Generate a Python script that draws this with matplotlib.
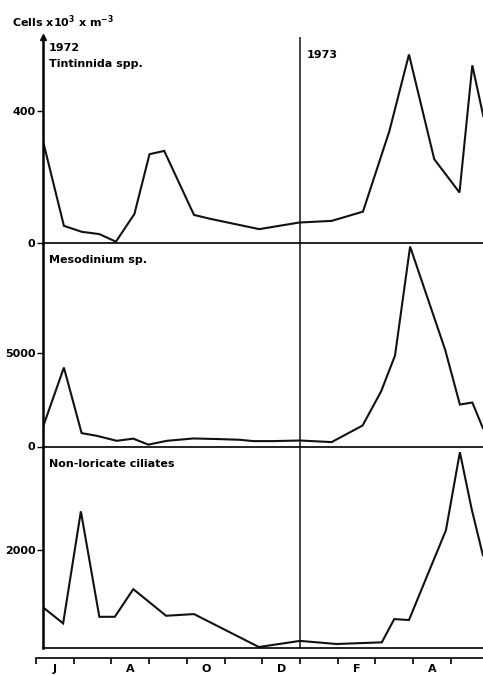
import numpy as np
import matplotlib
matplotlib.use('Agg')
import matplotlib.pyplot as plt

plt.rcParams['font.family'] = 'DejaVu Sans'
plt.rcParams['font.weight'] = 'bold'
plt.rcParams['font.size'] = 8
plt.rcParams['mathtext.default'] = 'bf'

# x = months since 1 June 1972
tin_m = [0.19, 0.74, 1.21, 1.68, 2.12, 2.61, 3.01, 3.40, 4.19, 4.63, 5.92,
         6.98, 7.84, 8.67, 9.37, 9.89, 10.56, 11.23, 11.57, 11.86]
tin_v = [307, 52, 34, 27, 4, 88, 269, 279, 85, 73, 42,
         62, 67, 95, 339, 571, 254, 153, 538, 385]

meso_m = [0.19, 0.74, 1.21, 1.61, 2.14, 2.58, 2.98, 3.47, 4.17, 4.88, 5.41,
          5.76, 6.29, 7.0, 7.84, 8.66, 9.15, 9.52, 9.92, 10.85, 11.24, 11.57, 11.85]
meso_v = [1071, 4229, 717, 573, 305, 420, 100, 305, 430, 396, 359,
          289, 289, 321, 236, 1124, 2944, 4872, 10707, 5177, 2248, 2355, 985]

nonl_m = [0.19, 0.72, 1.19, 1.68, 2.09, 2.58, 3.45, 4.19, 5.91, 7.0,
          7.97, 9.17, 9.50, 9.89, 10.36, 10.87, 11.24, 11.55, 11.85]
nonl_v = [828, 505, 2774, 638, 638, 1198, 659, 693, 26, 150,
          87, 121, 592, 572, 1446, 2390, 3972, 2828, 1885]

month_labels = ['J', 'A', 'O', 'D', 'F', 'A']

W, H = 483, 675
fig = plt.figure(figsize=(W / 100, H / 100), dpi=100)

x0, x1 = 0.186, 11.853
left = 43 / W
width = 440 / W


def panel(top, bottom, ymax, yticks, data_m, data_v, name, name_y):
    ax = fig.add_axes([left, 1 - bottom / H, width, (bottom - top) / H])
    ax.plot(data_m, data_v, color='#111111', lw=1.5, solid_joinstyle='miter')
    ax.set_xlim(x0, x1)
    ax.set_ylim(0, ymax)
    ax.set_yticks(yticks)
    ax.set_xticks([])
    for s in ['top', 'right']:
        ax.spines[s].set_visible(False)
    ax.spines['left'].set_linewidth(1.8)
    ax.spines['bottom'].set_linewidth(1.2)
    ax.tick_params(axis='y', direction='out', length=4, width=1, pad=1.5,
                   labelsize=8)
    ax.axvline(7, color='#111111', lw=1.1)
    ax.text(0.014, name_y, name, transform=ax.transAxes, fontsize=8,
            fontweight='bold')
    ax.patch.set_alpha(0)
    return ax


ax1 = panel(37, 243, 624, [0, 400], tin_m, tin_v, 'Tintinnida spp.', 0.855)
ax1.text(0.014, 0.93, '1972', transform=ax1.transAxes, fontsize=8)
ax1.text((7 - x0) / (x1 - x0) + 0.016, 0.9, '1973', transform=ax1.transAxes,
         fontsize=8)
ax1.plot([0], [1], marker='^', color='#111111', markersize=4,
         transform=ax1.transAxes, clip_on=False)

ax2 = panel(243, 446.5, 10900, [0, 5000], meso_m, meso_v, 'Mesodinium sp.', 0.9)
ax3 = panel(446.5, 648.3, 4087, [2000], nonl_m, nonl_v,
            'Non-loricate ciliates', 0.9)

# month axis
axm = fig.add_axes([36 / W, 1 - 658 / H, 447 / W, 0.0001])
axm.set_xlim(0, 11.853)
axm.set_yticks([])
for s in ['top', 'right', 'left']:
    axm.spines[s].set_visible(False)
axm.spines['bottom'].set_linewidth(1.2)
axm.set_xticks(np.arange(12))
axm.set_xticklabels([])
axm.set_xticks(np.arange(0.5, 12, 2), minor=True)
axm.set_xticklabels(month_labels, minor=True)
axm.tick_params(axis='x', which='major', direction='out', length=4, width=1.2)
axm.tick_params(axis='x', which='minor', length=0, pad=4.5, labelsize=8)
axm.axvline(7, ymin=0, ymax=1, color='#111111', lw=1.1)

fig.text(12 / W, 1 - 22 / H, 'Cells x10$^{3}$ x m$^{-3}$', fontsize=8,
         va='center', fontweight='bold')

fig.savefig('out.png', dpi=100)
